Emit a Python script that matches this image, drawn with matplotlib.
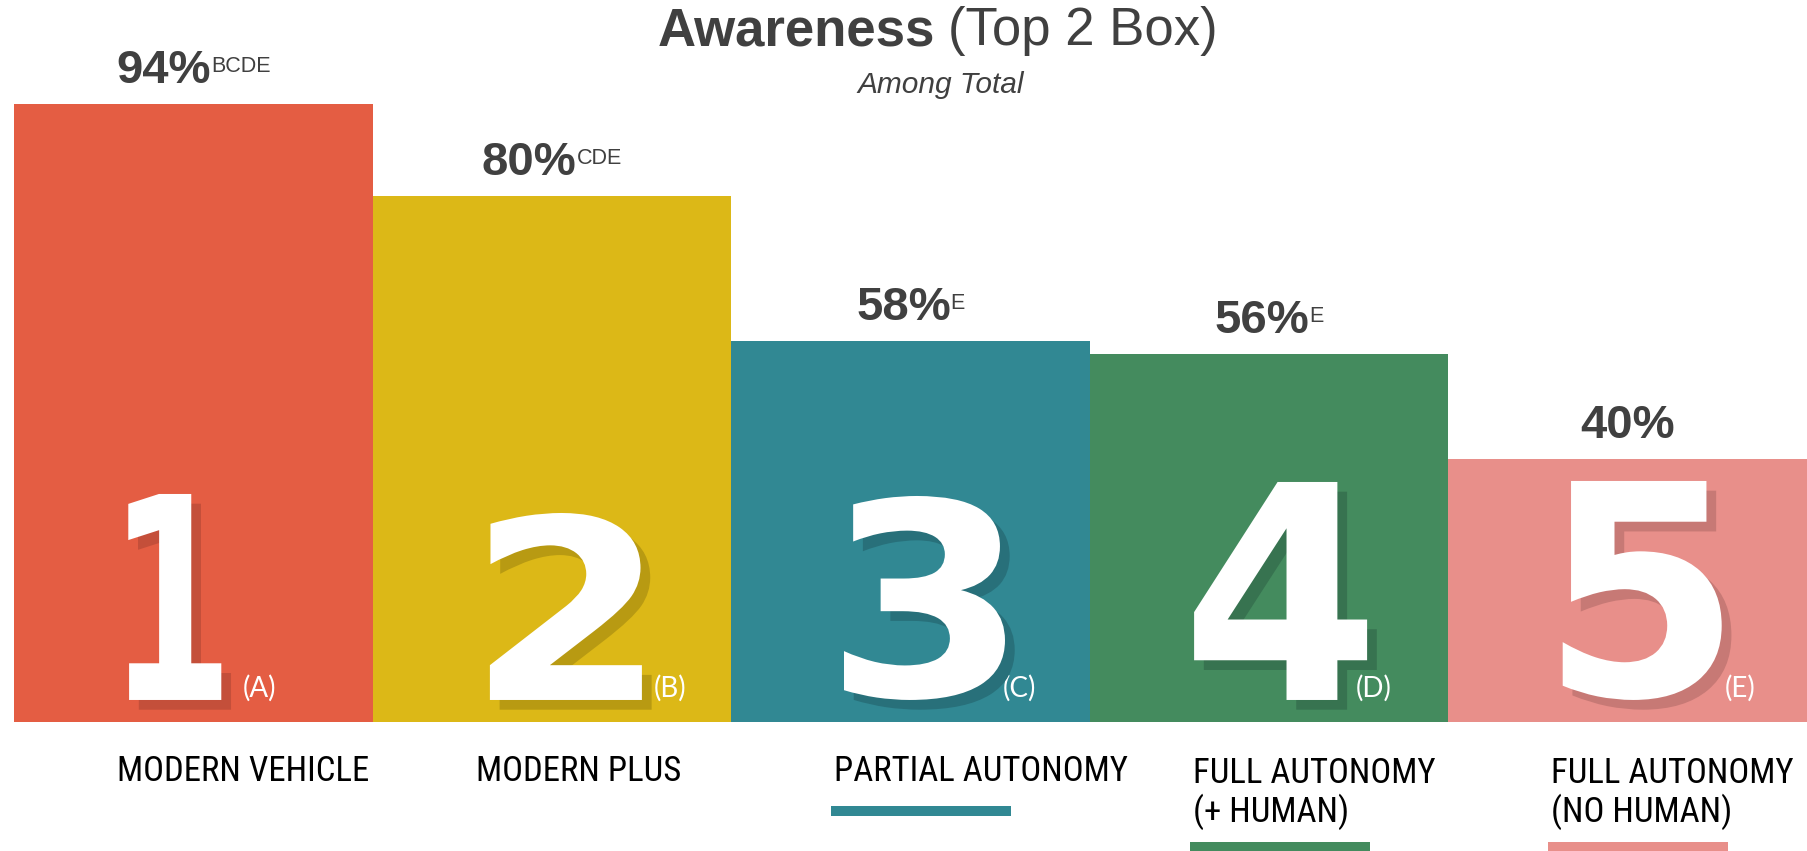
import matplotlib
matplotlib.use("Agg")
import matplotlib.pyplot as plt
import matplotlib.patheffects as pe
from matplotlib.patches import Rectangle, PathPatch
from matplotlib.textpath import TextPath
from matplotlib.transforms import Affine2D
from matplotlib.font_manager import FontProperties
from matplotlib import font_manager as fm
import numpy as np

# data
categories = ["MODERN VEHICLE", "MODERN PLUS", "PARTIAL AUTONOMY",
              "FULL AUTONOMY\n(+ HUMAN)", "FULL AUTONOMY\n(NO HUMAN)"]
values = [94, 80, 58, 56, 40]
sig_letters = ["BCDE", "CDE", "E", "E", ""]
numbers = ["1", "2", "3", "4", "5"]
col_letters = ["(A)", "(B)", "(C)", "(D)", "(E)"]
underlined = [False, False, True, True, True]

colors = ["#E45D43", "#DCB817", "#318893", "#448B5E", "#E88F8A"]
shadows = ["#C44F3A", "#B89A12", "#28707A", "#377350", "#C77975"]
# size of the big numbers in pixels, and shift from bar centre
num_w = [93, 152, 161, 173, 159]
num_h = [206, 187, 204, 218, 219]
num_dx = [-18.5, 14, 14, 11.5, 14.5]
letter_dx = [0.639, 0.784, 0.756, 0.742, 0.770]

GRAY = "#404040"
W, H = 1807, 851


def pick(names):
    for n in names:
        try:
            fm.findfont(fm.FontProperties(family=n), fallback_to_default=False)
            return n
        except ValueError:
            pass
    return "DejaVu Sans"

cond_font = pick(["Roboto Condensed", "Liberation Sans Narrow", "DejaVu Sans"])
thin_font = pick(["Lato", "Open Sans", "DejaVu Sans"])
arial = pick(["Liberation Sans", "DejaVu Sans"])

fig = plt.figure(figsize=(W / 100, H / 100), dpi=100)
fig.patch.set_facecolor("white")
ax = fig.add_axes([14 / W, 129 / H, (W - 14) / W, 657.5 / H])
ax.set_xlim(-0.5, 4.5)
ax.set_ylim(0, 100)
ax.axis("off")

x = np.arange(len(values))
ax.bar(x, values, width=1.0, color=colors, linewidth=0)

renderer = fig.canvas.get_renderer()


def place_pieces(cx, base_y, pieces):
    # pieces: (text, kwargs, dy px, gap px); centred as a group on cx (pixels)
    ts = []
    total = 0
    for s, kw, dy, gap in pieces:
        t = fig.text(0, 0, s, va="baseline", ha="left", **kw)
        w = t.get_window_extent(renderer).width
        ts.append((t, w, dy, gap))
        total += w + gap
    xx = cx - total / 2
    for t, w, dy, gap in ts:
        t.set_position((xx / W, (base_y + dy) / H))
        xx += w + gap


num_prop = FontProperties(family="DejaVu Sans", weight="bold")

for i in range(len(values)):
    # big white numbers with drop shadow, fitted to a box
    tp = TextPath((0, 0), numbers[i], size=100, prop=num_prop)
    bb = tp.get_extents()
    bx, by = ax.transData.transform((x[i], 3.35))
    sx = num_w[i] / bb.width
    sy = num_h[i] / bb.height
    tr = (Affine2D().translate(-bb.x0, -bb.y0).scale(sx, sy)
          .translate(bx + num_dx[i] - num_w[i] / 2, by))
    patch = PathPatch(tp, facecolor="white", edgecolor="none", transform=tr,
                      path_effects=[pe.SimplePatchShadow(offset=(7, -7), shadow_rgbFace=shadows[i], alpha=1),
                                    pe.Normal()])
    fig.add_artist(patch)

    ax.text(x[i] - 0.5 + letter_dx[i], 3.8, col_letters[i], ha="left", va="baseline",
            fontsize=20, family=thin_font, fontweight="normal", color="white")

    # value label with significance letters
    px, py = ax.transData.transform((x[i], values[i]))
    pieces = [("%d%%" % values[i], dict(fontsize=34, fontweight="bold", family=arial, color=GRAY), 0, 0)]
    if sig_letters[i]:
        pieces.append((sig_letters[i], dict(fontsize=15.5, family=arial, color=GRAY), 11, 0))
    place_pieces(px, py + 21, pieces)

    # category label under the bar (baseline of the last line)
    nlines = categories[i].count("\n") + 1
    ax.text(x[i] - 0.213, -8.97 - 6.23 * (nlines - 1), categories[i], ha="left", va="baseline",
            fontsize=25, family=cond_font, color="black", linespacing=1.12)

    if underlined[i]:
        y0 = -14.3 if nlines == 1 else -19.8
        ax.add_patch(Rectangle((x[i] - 0.5 + 0.279, y0), 0.502, 1.52,
                               facecolor=colors[i], linewidth=0, clip_on=False))

# title
place_pieces(938, H - 45, [
    ("Awareness", dict(fontsize=38, fontweight="bold", family=arial, color=GRAY), 0, 13),
    ("(Top 2 Box)", dict(fontsize=38, family=arial, color=GRAY), 0, 0),
])
place_pieces(941, H - 93, [
    ("Among Total", dict(fontsize=21.5, style="italic", family=arial, color=GRAY), 0, 0),
])

fig.savefig("out.png", dpi=100, facecolor="white")
